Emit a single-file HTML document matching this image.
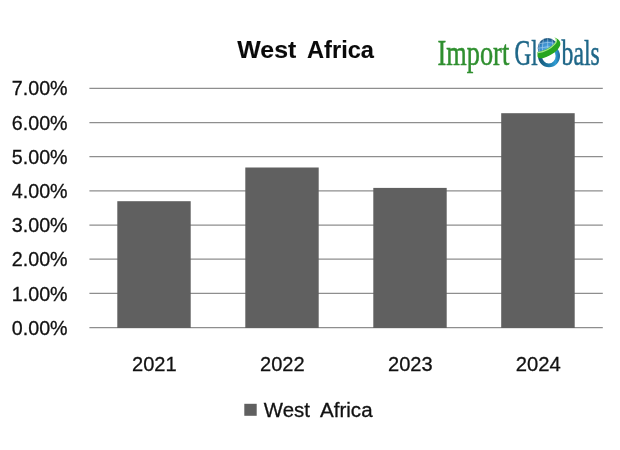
<!DOCTYPE html>
<html>
<head>
<meta charset="utf-8">
<title>West Africa</title>
<style>
html,body{margin:0;padding:0;background:#fff;}
body{width:620px;height:450px;overflow:hidden;}
svg{display:block;}
.ax{font-family:"Liberation Sans",sans-serif;font-size:21px;fill:#111;stroke:#111;stroke-width:0.3px;}
.ttl{font-family:"Liberation Sans",sans-serif;font-size:24.3px;font-weight:bold;fill:#0a0a0a;stroke:#0a0a0a;stroke-width:0.1px;}
.lg{font-family:"Liberation Serif",serif;font-size:35.2px;stroke-width:0.5px;}
</style>
</head>
<body>
<svg width="620" height="450" viewBox="0 0 620 450">
<rect x="0" y="0" width="620" height="450" fill="#ffffff"/>

<!-- gridlines -->
<g stroke="#8e8e8e" stroke-width="1.25">
<line x1="89.4" y1="88.3" x2="602.8" y2="88.3"/>
<line x1="89.4" y1="122.5" x2="602.8" y2="122.5"/>
<line x1="89.4" y1="156.7" x2="602.8" y2="156.7"/>
<line x1="89.4" y1="190.8" x2="602.8" y2="190.8"/>
<line x1="89.4" y1="225" x2="602.8" y2="225"/>
<line x1="89.4" y1="259.2" x2="602.8" y2="259.2"/>
<line x1="89.4" y1="293.3" x2="602.8" y2="293.3"/>
<line x1="89.4" y1="327.5" x2="602.8" y2="327.5"/>
</g>

<!-- bars -->
<g fill="#606060">
<rect x="117.3" y="201.2" width="73.4" height="126.8"/>
<rect x="245.3" y="167.5" width="73.4" height="160.5"/>
<rect x="373.3" y="187.9" width="73.4" height="140.1"/>
<rect x="501.2" y="113.2" width="73.5" height="214.8"/>
</g>

<!-- y axis labels -->
<g class="ax">
<text x="11.8" y="95.4" textLength="55.8" lengthAdjust="spacingAndGlyphs">7.00%</text>
<text x="11.8" y="129.6" textLength="55.8" lengthAdjust="spacingAndGlyphs">6.00%</text>
<text x="11.8" y="163.8" textLength="55.8" lengthAdjust="spacingAndGlyphs">5.00%</text>
<text x="11.8" y="197.9" textLength="55.8" lengthAdjust="spacingAndGlyphs">4.00%</text>
<text x="11.8" y="232.1" textLength="55.8" lengthAdjust="spacingAndGlyphs">3.00%</text>
<text x="11.8" y="266.3" textLength="55.8" lengthAdjust="spacingAndGlyphs">2.00%</text>
<text x="11.8" y="300.5" textLength="55.8" lengthAdjust="spacingAndGlyphs">1.00%</text>
<text x="11.8" y="334.6" textLength="55.8" lengthAdjust="spacingAndGlyphs">0.00%</text>
</g>

<!-- x axis labels -->
<g class="ax">
<text x="132" y="371.4" textLength="44.6" lengthAdjust="spacingAndGlyphs">2021</text>
<text x="260" y="371.4" textLength="44.6" lengthAdjust="spacingAndGlyphs">2022</text>
<text x="388" y="371.4" textLength="44.6" lengthAdjust="spacingAndGlyphs">2023</text>
<text x="515.7" y="371.4" textLength="45" lengthAdjust="spacingAndGlyphs">2024</text>
</g>

<!-- title -->
<g class="ttl">
<text x="237.3" y="58.4" textLength="59" lengthAdjust="spacingAndGlyphs">West</text>
<text x="307" y="58.4" textLength="67" lengthAdjust="spacingAndGlyphs">Africa</text>
</g>

<!-- legend -->
<rect x="244.3" y="403.8" width="12.4" height="12" fill="#606060"/>
<g class="ax" style="font-size:19.6px">
<text x="263.8" y="416.7" textLength="46" lengthAdjust="spacingAndGlyphs">West</text>
<text x="320" y="416.7" textLength="52.6" lengthAdjust="spacingAndGlyphs">Africa</text>
</g>

<!-- logo -->
<g class="lg">
<text x="437.6" y="64.7" textLength="71.6" lengthAdjust="spacingAndGlyphs" fill="#2f8f2f" stroke="#2f8f2f">Import</text>
<text x="514.4" y="64.8" textLength="23.2" lengthAdjust="spacingAndGlyphs" fill="#1f6788" stroke="#1f6788">Gl</text>
<text x="561.6" y="64.8" textLength="38.2" lengthAdjust="spacingAndGlyphs" fill="#1f6788" stroke="#1f6788">bals</text>
</g>
<g id="globe">
<defs>
<linearGradient id="ring" x1="0" y1="0" x2="1" y2="0">
<stop offset="0" stop-color="#175675"/><stop offset="0.5" stop-color="#1f7aa6"/><stop offset="0.8" stop-color="#2f9cd4"/><stop offset="1" stop-color="#1c6896"/>
</linearGradient>
<radialGradient id="sph" cx="0.5" cy="0.58" r="0.56">
<stop offset="0" stop-color="#5ab0e8"/><stop offset="0.7" stop-color="#3688c8"/><stop offset="1" stop-color="#164f78"/>
</radialGradient>
<clipPath id="cs"><path d="M530 30 L554.4 30 L554.4 37.5 C559 39.5 559.5 43.5 556.5 46.5 C552.5 50.5 545 53.8 537.5 55 L530 55 Z"/></clipPath>
<clipPath id="cr"><path d="M537.5 55 C545 53.8 552.5 50.5 556.5 46.5 C558 45 558.8 43.5 558.8 42 L570 42 L570 72 L530 72 L530 55 Z"/></clipPath>
</defs>
<!-- ring -->
<g clip-path="url(#cr)">
<path fill-rule="evenodd" fill="url(#ring)" d="M538 56 A11 11.3 0 1 0 560 56 A11 11.3 0 1 0 538 56 Z M542 56 A6.8 7.4 0 1 0 555.6 56 A6.8 7.4 0 1 0 542 56 Z"/>
</g>
<!-- sphere -->
<g clip-path="url(#cs)">
<circle cx="547.7" cy="48.1" r="10" fill="url(#sph)"/>
<g stroke="#d4ecfa" stroke-width="0.7" fill="none" opacity="0.65">
<path d="M538 43.8 Q548 41 558 43.8"/>
<path d="M537.6 48.3 Q548 45.3 558 48.3"/>
<path d="M538 52.6 Q548 49.6 558 52.6"/>
<path d="M547.7 38 L547.7 58"/>
<path d="M543.5 38 Q541.1 48 543.5 58"/>
<path d="M551.9 38 Q554.3 48 551.9 58"/>
<path d="M540.1 40 Q537.7 48 540.1 56"/>
</g>
</g>
<!-- green swoosh -->
<path d="M554.4 37.5 C558.5 38.5 561.2 42 560.2 45.2 C558.8 50 551 56 543.5 57.9 C540.5 58.6 537.8 58.2 537.5 56.2 L537.5 52 C543.5 51.2 550.5 47.6 554 43.8 C556.6 41 556.8 39.3 554.4 37.5 Z" fill="#27a520"/>
<path d="M537.9 52.7 C543.8 51.9 550.8 48.3 554.4 44.4 C556.6 42 557.2 40 555.6 38.6" fill="none" stroke="#a5e58a" stroke-width="1.3" stroke-linecap="round"/>
</g>
</svg>
</body>
</html>
